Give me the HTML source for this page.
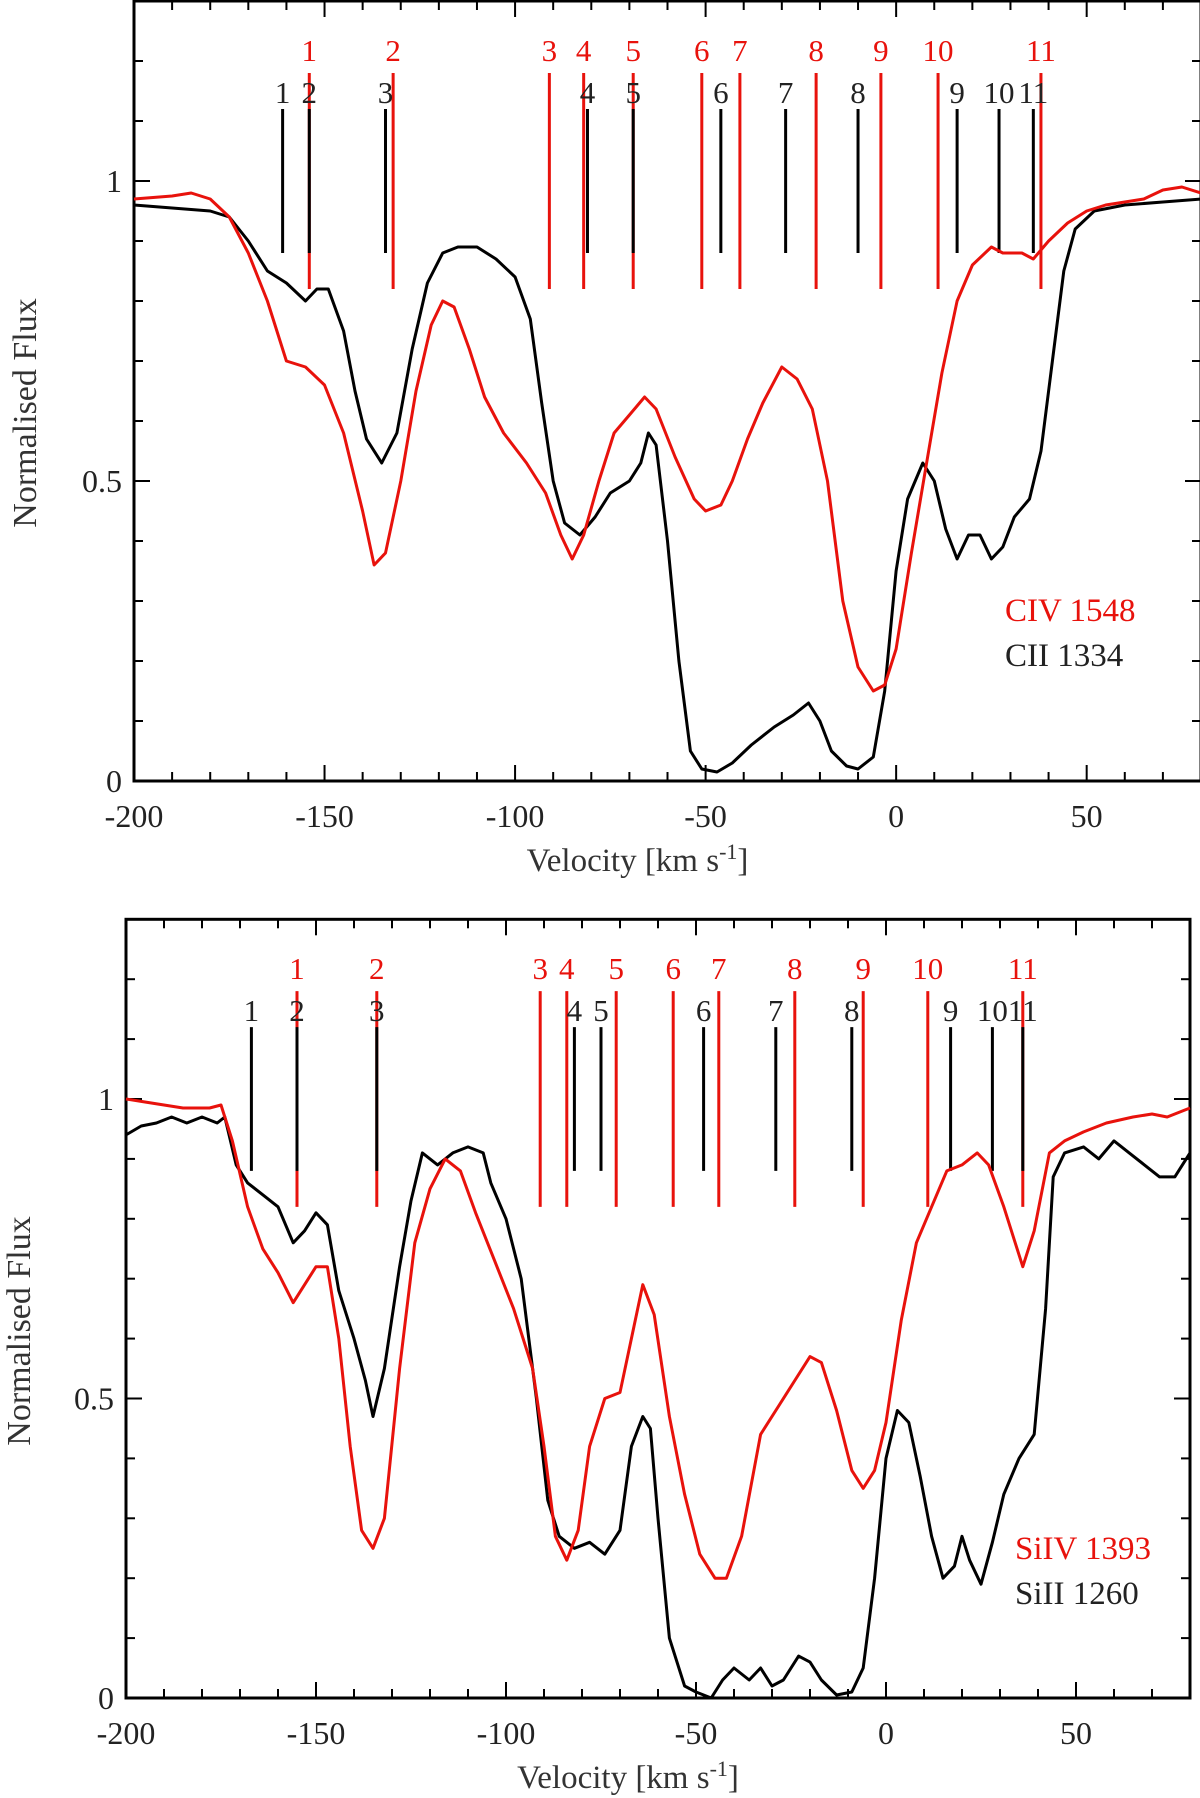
<!DOCTYPE html>
<html><head><meta charset="utf-8"><style>
html,body{margin:0;padding:0;background:#fff;}
svg{display:block;font-family:"Liberation Serif",serif;}
</style></head><body>
<svg id="c" width="1200" height="1798" viewBox="0 0 1200 1798" xmlns="http://www.w3.org/2000/svg"></svg>
<script>
const xTicks=[-200,-150,-100,-50,0,50];
const yTicks=[0,0.5,1];
// top panel
const civV=[-200,-190,-185,-180,-175,-170,-165,-160,-155,-150,-145,-140,-137,-134,-130,-126,-122,-119,-116,-112,-108,-103,-97,-92,-88,-85,-82,-78,-74,-70,-66,-63,-58,-53,-50,-46,-43,-39,-35,-30,-26,-22,-18,-14,-10,-6,-3,0,4,8,12,16,20,25,28,33,36,40,45,50,55,60,65,70,75,80];
const civF=[0.97,0.975,0.98,0.97,0.94,0.88,0.8,0.7,0.69,0.66,0.58,0.45,0.36,0.38,0.5,0.65,0.76,0.8,0.79,0.72,0.64,0.58,0.53,0.48,0.41,0.37,0.41,0.5,0.58,0.61,0.64,0.62,0.54,0.47,0.45,0.46,0.5,0.57,0.63,0.69,0.67,0.62,0.5,0.3,0.19,0.15,0.16,0.22,0.38,0.53,0.68,0.8,0.86,0.89,0.88,0.88,0.87,0.9,0.93,0.95,0.96,0.965,0.97,0.985,0.99,0.98];
const ciiV=[-200,-190,-180,-175,-170,-165,-160,-155,-152,-149,-145,-142,-139,-135,-131,-127,-123,-119,-115,-110,-105,-100,-96,-93,-90,-87,-83,-79,-75,-70,-67,-65,-63,-60,-57,-54,-51,-47,-43,-38,-32,-27,-23,-20,-17,-13,-10,-6,-3,0,3,7,10,13,16,19,22,25,28,31,35,38,41,44,47,52,60,70,80];
const ciiF=[0.96,0.955,0.95,0.94,0.9,0.85,0.83,0.8,0.82,0.82,0.75,0.65,0.57,0.53,0.58,0.72,0.83,0.88,0.89,0.89,0.87,0.84,0.77,0.63,0.5,0.43,0.41,0.44,0.48,0.5,0.53,0.58,0.56,0.4,0.2,0.05,0.02,0.015,0.03,0.06,0.09,0.11,0.13,0.1,0.05,0.025,0.02,0.04,0.15,0.35,0.47,0.53,0.5,0.42,0.37,0.41,0.41,0.37,0.39,0.44,0.47,0.55,0.7,0.85,0.92,0.95,0.96,0.965,0.97];
const topRedComp=[-154,-132,-91,-82,-69,-51,-41,-21,-4,11,38];
const topBlackComp=[-161,-154,-134,-81,-69,-46,-29,-10,16,27,36];
// bottom panel
const siivV=[-200,-195,-190,-185,-178,-175,-172,-168,-164,-160,-156,-153,-150,-147,-144,-141,-138,-135,-132,-128,-124,-120,-116,-112,-108,-103,-98,-93,-90,-87,-84,-81,-78,-74,-70,-66,-64,-61,-57,-53,-49,-45,-42,-38,-33,-28,-24,-20,-17,-13,-9,-6,-3,0,4,8,12,16,20,24,27,31,34,36,39,43,47,52,58,65,70,74,80];
const siivF=[1.0,0.995,0.99,0.985,0.985,0.99,0.93,0.82,0.75,0.71,0.66,0.69,0.72,0.72,0.6,0.42,0.28,0.25,0.3,0.55,0.76,0.85,0.9,0.88,0.81,0.73,0.65,0.55,0.42,0.27,0.23,0.28,0.42,0.5,0.51,0.63,0.69,0.64,0.47,0.34,0.24,0.2,0.2,0.27,0.44,0.49,0.53,0.57,0.56,0.48,0.38,0.35,0.38,0.46,0.63,0.76,0.82,0.88,0.89,0.91,0.89,0.82,0.76,0.72,0.78,0.91,0.93,0.945,0.96,0.97,0.975,0.97,0.985];
const siiiV=[-200,-196,-192,-188,-184,-180,-176,-174,-171,-168,-164,-160,-156,-153,-150,-147,-144,-140,-137,-135,-132,-128,-125,-122,-118,-114,-110,-106,-104,-100,-96,-92,-89,-86,-82,-78,-74,-70,-67,-64,-62,-60,-57,-53,-50,-46,-43,-40,-36,-33,-30,-27,-23,-20,-17,-13,-9,-6,-3,0,3,6,9,12,15,18,20,22,25,28,31,35,39,42,44,47,52,56,60,64,68,72,76,80];
const siiiF=[0.94,0.955,0.96,0.97,0.96,0.97,0.96,0.97,0.89,0.86,0.84,0.82,0.76,0.78,0.81,0.79,0.68,0.6,0.53,0.47,0.55,0.72,0.83,0.91,0.89,0.91,0.92,0.91,0.86,0.8,0.7,0.5,0.33,0.27,0.25,0.26,0.24,0.28,0.42,0.47,0.45,0.3,0.1,0.02,0.01,0.0,0.03,0.05,0.03,0.05,0.02,0.03,0.07,0.06,0.03,0.005,0.01,0.05,0.2,0.4,0.48,0.46,0.37,0.27,0.2,0.22,0.27,0.23,0.19,0.26,0.34,0.4,0.44,0.65,0.87,0.91,0.92,0.9,0.93,0.91,0.89,0.87,0.87,0.91];
const botRedComp=[-155,-134,-91,-84,-71,-56,-44,-24,-6,11,36];
const botBlackComp=[-167,-155,-134,-82,-75,-48,-29,-9,17,28,36];
const compLabels=['1','2','3','4','5','6','7','8','9','10','11'];

const svg=document.getElementById('c');
const NS='http://www.w3.org/2000/svg';
function mk(t,a,p){const e=document.createElementNS(NS,t);for(const k in a)e.setAttribute(k,a[k]);(p||svg).appendChild(e);return e;}

function panel(cfg){
  const g=mk('g',{});
  
  
  const X=v=>cfg.x0+(v+200)*(cfg.x1-cfg.x0)/280;
  const Y=f=>cfg.y0-f*cfg.yu;
  const top=Y(1.3);
  const fr=mk('rect',{x:cfg.x0,y:top,width:cfg.x1-cfg.x0,height:cfg.y0-top,fill:'none',stroke:'#000','stroke-width':3},g);
  
  
  for(let v=-200;v<=80;v+=10){
    const big=v%50===0, L=big?16:9;
    mk('line',{x1:X(v),x2:X(v),y1:cfg.y0,y2:cfg.y0-L,stroke:'#000','stroke-width':2},g);
    mk('line',{x1:X(v),x2:X(v),y1:top,y2:top+L,stroke:'#000','stroke-width':2},g);
  }
  for(let i=0;i<=13;i++){
    const f=i/10, big=i%5===0, L=big?16:9;
    mk('line',{x1:cfg.x0,x2:cfg.x0+L,y1:Y(f),y2:Y(f),stroke:'#000','stroke-width':2},g);
    mk('line',{x1:cfg.x1,x2:cfg.x1-L,y1:Y(f),y2:Y(f),stroke:'#000','stroke-width':2},g);
  }
  xTicks.forEach(v=>{
    const t=mk('text',{x:X(v),y:cfg.y0+46,'text-anchor':'middle','font-size':32,fill:'#222'},g);
    t.textContent=v;
    
    
  });
  yTicks.forEach(f=>{
    const t=mk('text',{x:cfg.x0-12,y:Y(f)+11,'text-anchor':'end','font-size':32,fill:'#222'},g);
    t.textContent=f;
    
    
  });
  const xt=mk('text',{x:(X(-200)+X(80))/2-30,y:cfg.y0+90,'text-anchor':'middle','font-size':33,fill:'#333'},g);
  xt.innerHTML='Velocity [km s<tspan dy="-12" font-size="22">-1</tspan><tspan dy="12">]</tspan>';
  
  
  const yt=mk('text',{x:0,y:0,'text-anchor':'middle','font-size':34,fill:'#333',transform:`translate(${cfg.ylx},${cfg.yly}) rotate(-90)`},g);
  yt.textContent='Normalised Flux';
  
  
  cfg.red.forEach((v,i)=>{
    const l=mk('line',{x1:X(v),x2:X(v),y1:Y(1.18),y2:Y(0.82),stroke:'#e8120c','stroke-width':3},g);
    
    
    const t=mk('text',{x:X(v),y:Y(1.18)-12,'text-anchor':'middle','font-size':31,fill:'#e8120c'},g);
    t.textContent=compLabels[i];
    
    
  });
  cfg.black.forEach((v,i)=>{
    const l=mk('line',{x1:X(v),x2:X(v),y1:Y(1.12),y2:Y(0.88),stroke:'#000','stroke-width':3},g);
    
    
    const t=mk('text',{x:X(v),y:Y(1.12)-6,'text-anchor':'middle','font-size':31,fill:'#222'},g);
    t.textContent=compLabels[i];
    
    
  });
  const path=(vs,fs)=>vs.map((v,i)=>(i?'L':'M')+X(v).toFixed(1)+','+Y(fs[i]).toFixed(1)).join('');
  const pb=mk('path',{d:path(cfg.bv,cfg.bf),fill:'none',stroke:'#000','stroke-width':3,'stroke-linejoin':'round'},g);
  
  
  const pr=mk('path',{d:path(cfg.rv,cfg.rf),fill:'none',stroke:'#e8120c','stroke-width':3,'stroke-linejoin':'round'},g);
  
  
  const l1=mk('text',{x:cfg.lx,y:cfg.ly,'font-size':33,fill:'#e8120c'},g);
  l1.textContent=cfg.rlab;
  
  
  const l2=mk('text',{x:cfg.lx,y:cfg.ly+45,'font-size':33,fill:'#222'},g);
  l2.textContent=cfg.blab;
  
  
}
panel({name:'top-panel-carbon',x0:134,x1:1201,y0:781,yu:600,ylx:36,yly:413,red:topRedComp,black:topBlackComp,
  rv:civV,rf:civF,bv:ciiV,bf:ciiF,rname:'civ-1548-line',bname:'cii-1334-line',rlab:'CIV 1548',blab:'CII 1334',lx:1005,ly:621});
panel({name:'bottom-panel-silicon',x0:126,x1:1190,y0:1698,yu:599,ylx:30,yly:1331,red:botRedComp,black:botBlackComp,
  rv:siivV,rf:siivF,bv:siiiV,bf:siiiF,rname:'siiv-1393-line',bname:'siii-1260-line',rlab:'SiIV 1393',blab:'SiII 1260',lx:1015,ly:1559});
</script>
</body></html>
